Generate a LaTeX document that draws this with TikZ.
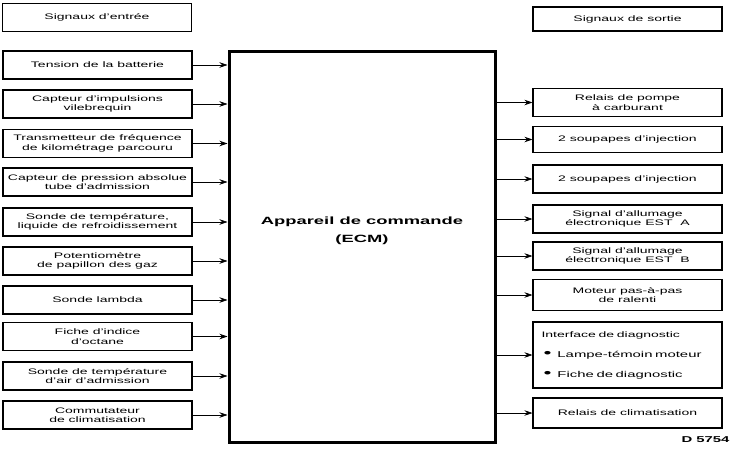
\documentclass[tikz,border=0pt]{standalone}
\usepackage{fontspec}
\setmainfont{Liberation Sans}[FakeStretch=1.75]
\usetikzlibrary{arrows.meta}

\newcommand{\dotitem}{\hspace*{2pt}{\fontsize{13}{13}\selectfont\textbullet}\hspace{6pt}}

\begin{document}
\begin{tikzpicture}[x=1pt, y=-1pt,
    box/.style={draw, rectangle, line width=1.1pt, minimum width=189pt, minimum height=28pt,
        inner sep=1pt, align=center, font=\fontsize{8}{9.5}\selectfont},
    arrow/.style={line width=0.7pt, -{Stealth[length=8pt, width=5.5pt]}}
]
    \useasboundingbox (0,0) rectangle (733,450);

    % titles
    \node[box, minimum height=28pt] (entree) at (97,17.5) {Signaux d'entrée};
    \node[box, minimum height=24pt] (sortie) at (627.5,19) {Signaux de sortie};

    % control unit
    \node[draw, line width=3pt, minimum width=266pt, minimum height=391pt] (ecm) at (362,246.5) {};
    \node[font=\fontsize{10.5}{18}\selectfont\bfseries, align=center] (ecmtext) at (362,231)
        {Appareil de commande\\(ECM)};

    % input signals
    \node[box] (batterie) at (97.5,65) {Tension de la batterie};
    \node[box] (vilebrequin) at (97.5,104) {Capteur d'impulsions\\vilebrequin};
    \node[box] (kilometrage) at (97.5,143.5) {Transmetteur de fréquence\\de kilométrage parcouru};
    \node[box] (pression) at (97.5,182) {Capteur de pression absolue\\tube d'admission};
    \node[box] (refroid) at (97.5,222) {Sonde de température,\\liquide de refroidissement};
    \node[box] (papillon) at (97.5,261) {Potentiomètre\\de papillon des gaz};
    \node[box] (lambda) at (97.5,300) {Sonde lambda};
    \node[box] (octane) at (97.5,336.5) {Fiche d'indice\\d'octane};
    \node[box] (airadm) at (97.5,376) {Sonde de température\\d'air d'admission};
    \node[box] (commut) at (97.5,415) {Commutateur\\de climatisation};

    % output signals
    \node[box] (pompe) at (627.5,102.5) {Relais de pompe\\à carburant};
    \node[box, minimum height=26pt] (injA) at (627.5,139.5) {2 soupapes d'injection};
    \node[box] (injB) at (627.5,179) {2 soupapes d'injection};
    \node[box] (estA) at (627.5,219) {Signal d'allumage\\électronique EST\ \ A};
    \node[box] (estB) at (627.5,256) {Signal d'allumage\\électronique EST\ \ B};
    \node[box, minimum height=31pt] (ralenti) at (627.5,295) {Moteur pas-à-pas\\de ralenti};
    \node[box, minimum height=66pt, text width=172pt, align=left, font=\fontsize{8}{20}\selectfont] (diag) at (627.5,355)
        {Interface de diagnostic\\
         \dotitem{\fontsize{8.5}{20}\selectfont Lampe-témoin moteur}\\
         \dotitem{\fontsize{8.5}{20}\selectfont Fiche de diagnostic}};
    \node[box, minimum height=30pt] (climat) at (627.5,413) {Relais de climatisation};

    \node[font=\fontsize{8.5}{10}\selectfont\bfseries, anchor=east] (ref) at (733,440) {D 5754};

    % connectors into the ECM
    \draw[arrow] (batterie.east) -- (batterie.east -| ecm.west);
    \draw[arrow] (vilebrequin.east) -- (vilebrequin.east -| ecm.west);
    \draw[arrow] (kilometrage.east) -- (kilometrage.east -| ecm.west);
    \draw[arrow] (pression.east) -- (pression.east -| ecm.west);
    \draw[arrow] (refroid.east) -- (refroid.east -| ecm.west);
    \draw[arrow] (papillon.east) -- (papillon.east -| ecm.west);
    \draw[arrow] (lambda.east) -- (lambda.east -| ecm.west);
    \draw[arrow] (octane.east) -- (octane.east -| ecm.west);
    \draw[arrow] (airadm.east) -- (airadm.east -| ecm.west);
    \draw[arrow] (commut.east) -- (commut.east -| ecm.west);

    % connectors out of the ECM
    \draw[arrow] (pompe.west -| ecm.east) -- (pompe.west);
    \draw[arrow] (injA.west -| ecm.east) -- (injA.west);
    \draw[arrow] (injB.west -| ecm.east) -- (injB.west);
    \draw[arrow] (estA.west -| ecm.east) -- (estA.west);
    \draw[arrow] (estB.west -| ecm.east) -- (estB.west);
    \draw[arrow] (ralenti.west -| ecm.east) -- (ralenti.west);
    \draw[arrow] (diag.west -| ecm.east) -- (diag.west);
    \draw[arrow] (climat.west -| ecm.east) -- (climat.west);
\end{tikzpicture}
\end{document}
